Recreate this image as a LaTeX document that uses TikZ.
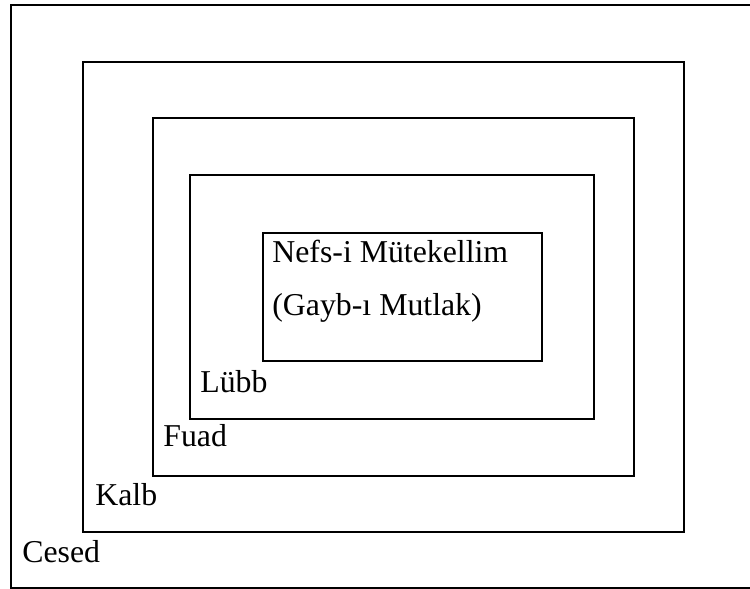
\documentclass[tikz,border=0pt]{standalone}
\usepackage{fontspec}
\setmainfont{Liberation Serif}
\usepackage{tikz}
\usetikzlibrary{positioning}
\tikzset{frame/.style={draw=black, line width=1.35pt},
  label text/.style={anchor=base west, inner sep=0pt, font=\fontsize{15.9}{19}\selectfont}}

\begin{document}
\begin{tikzpicture}[x=0.5pt, y=-0.5pt]
\useasboundingbox (0,0) rectangle (750,589);
\coordinate (cesedTL) at (11,5);
\coordinate (kalbTL) at (83,62);
\coordinate (kalbBR) at (684,532);
\coordinate (fuadTL) at (153,118);
\coordinate (fuadBR) at (634,476);
\coordinate (lubbTL) at (190,175);
\coordinate (lubbBR) at (594,419);
\coordinate (nefsTL) at (263,233);
\coordinate (nefsBR) at (542,361);
\draw[frame] (750,5) -- (cesedTL) -- (11,588) -- (750,588);
\draw[frame] (kalbTL) rectangle (kalbBR);
\draw[frame] (fuadTL) rectangle (fuadBR);
\draw[frame] (lubbTL) rectangle (lubbBR);
\draw[frame] (nefsTL) rectangle (nefsBR);
\node[label text] (nefs) at (272,262) {Nefs-i Mütekellim};
\node[label text] (gayb) at (272,315) {(Gayb-ı Mutlak)};
\node[label text] (lubb) at (200,392) {Lübb};
\node[label text] (fuad) at (163,446) {Fuad};
\node[label text] (kalb) at (95,505) {Kalb};
\node[label text] (cesed) at (22,562) {Cesed};
\end{tikzpicture}
\end{document}
